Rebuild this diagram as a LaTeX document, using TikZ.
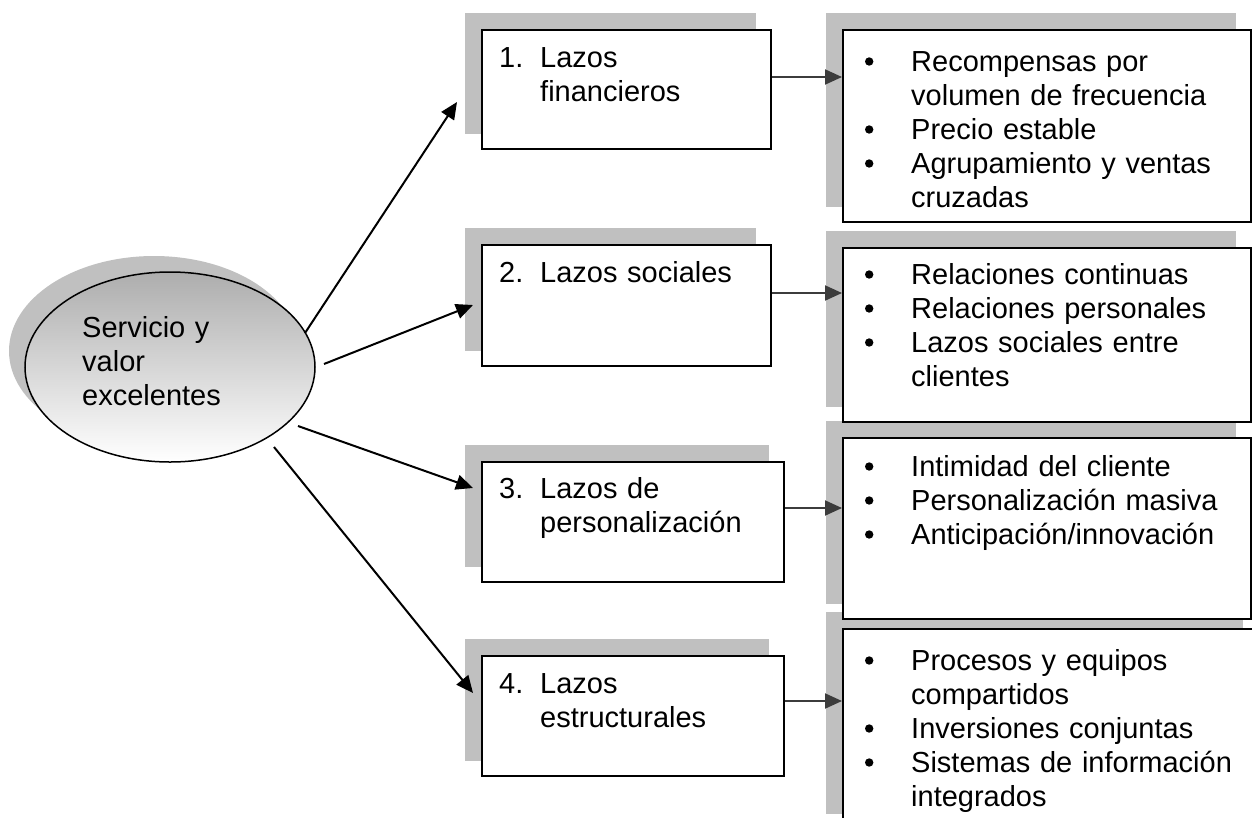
\documentclass[tikz,border=0pt]{standalone}
\usepackage{fontspec}
\setmainfont{Liberation Sans}
\usetikzlibrary{arrows.meta,calc,shapes.geometric,backgrounds}
\definecolor{shadowgray}{HTML}{C0C0C0}
\definecolor{linkgray}{HTML}{3C3C3C}
% round bullet hung 42pt left of the item text
\newcommand{\bul}{\makebox[0pt][r]{\raisebox{5.3pt}{\tikz[x=1pt,y=1pt]\fill[black] (0,0) circle (4.2pt);}\hspace{37.8pt}}}
% list number hung in front of the first line
\newcommand{\numlab}[1]{\makebox[0pt][r]{\makebox[41pt][l]{#1}}}
\begin{document}
\begin{tikzpicture}[x=1pt,y=-1pt,
  every node/.style={inner sep=0pt},
  box/.style={draw=black, line width=2pt, fill=white, anchor=north west},
  txt/.style={anchor=base west, align=left, text width=#1,
    font=\fontsize{29}{34}\selectfont},
  arr/.style={line width=2pt, draw=black,
    -{Triangle[length=17pt,width=15pt]}},
  harr/.style={line width=2pt, draw=linkgray,
    -{Triangle[length=17pt,width=15pt,fill=linkgray]}}
]
\useasboundingbox (0,0) rectangle (1252,817);
\clip (0,0) rectangle (1252,817);

% central ellipse
\node[ellipse, draw=black, line width=1.5pt, minimum width=290pt,
  minimum height=190pt, top color=black!32, bottom color=white] (serv) at (170,367) {};
\node[txt=160pt] (servtxt) at (82,337) {Servicio y\\valor\\excelentes};

% ties
\node[box, minimum width=289pt, minimum height=119pt] (b1) at (481,29) {};
\node[box, minimum width=289pt, minimum height=121pt] (b2) at (481,244) {};
\node[box, minimum width=302pt, minimum height=120pt] (b3) at (481,461) {};
\node[box, minimum width=302pt, minimum height=120pt] (b4) at (481,655) {};

\node[txt=230pt] (t1) at ($(b1.north west)+(59,38)$) {\numlab{1.}Lazos\\financieros};
\node[txt=230pt] (t2) at ($(b2.north west)+(59,38)$) {\numlab{2.}Lazos sociales};
\node[txt=240pt] (t3) at ($(b3.north west)+(59,37)$) {\numlab{3.}Lazos de\\personalización};
\node[txt=240pt] (t4) at ($(b4.north west)+(59,38)$) {\numlab{4.}Lazos\\estructurales};

% details
\node[box, minimum width=408pt, minimum height=192pt] (r1) at (842,29) {};
\node[box, minimum width=408pt, minimum height=174pt] (r2) at (842,247) {};
\node[box, minimum width=408pt, minimum height=181pt] (r3) at (842,437) {};
\node[box, minimum width=415pt, minimum height=200pt] (r4) at (842,628) {};

\node[txt=335pt] (d1) at ($(r1.north west)+(69,42)$)
  {\bul Recompensas por\\volumen de frecuencia\\\bul Precio estable\\\bul Agrupamiento y ventas\\cruzadas};
\node[txt=335pt] (d2) at ($(r2.north west)+(69,37)$)
  {\bul Relaciones continuas\\\bul Relaciones personales\\\bul Lazos sociales entre\\clientes};
\node[txt=335pt] (d3) at ($(r3.north west)+(69,39)$)
  {\bul Intimidad del cliente\\\bul Personalización masiva\\\bul Anticipación/innovación};
\node[txt=335pt] (d4) at ($(r4.north west)+(69,42)$)
  {\bul Procesos y equipos\\compartidos\\\bul Inversiones conjuntas\\\bul Sistemas de información\\integrados};

% shadows behind every shape
\begin{scope}[on background layer]
  \fill[shadowgray] ($(serv.center)+(-16,-16)$) ellipse [x radius=145pt, y radius=95pt];
  \foreach \b in {b1,b2,b3,b4,r1,r2,r3,r4}
    \fill[shadowgray] ($(\b.south west)+(-16,-16)$) rectangle ($(\b.north east)+(-16,-16)$);
\end{scope}

% connectors from the centre to each tie
\draw[arr] ($(serv.center)+(135,-34)$) -- ($(b1.north west)+(-24,73)$);
\draw[arr] ($(serv.center)+(154,-3)$) -- ($(b2.north west)+(-8,61)$);
\draw[arr] ($(serv.center)+(128,59)$) -- ($(b3.north west)+(-8,27)$);
\draw[arr] ($(serv.center)+(104,80)$) -- ($(b4.north west)+(-8,38)$);

% connectors from each tie to its details
\coordinate (h1) at ($(b1.north east)+(0,48)$);
\coordinate (h2) at ($(b2.north east)+(0,49)$);
\coordinate (h3) at ($(b3.north east)+(0,47)$);
\coordinate (h4) at ($(b4.north east)+(0,46)$);
\draw[harr] (h1) -- (h1 -| r1.west);
\draw[harr] (h2) -- (h2 -| r2.west);
\draw[harr] (h3) -- (h3 -| r3.west);
\draw[harr] (h4) -- (h4 -| r4.west);
\end{tikzpicture}
\end{document}
